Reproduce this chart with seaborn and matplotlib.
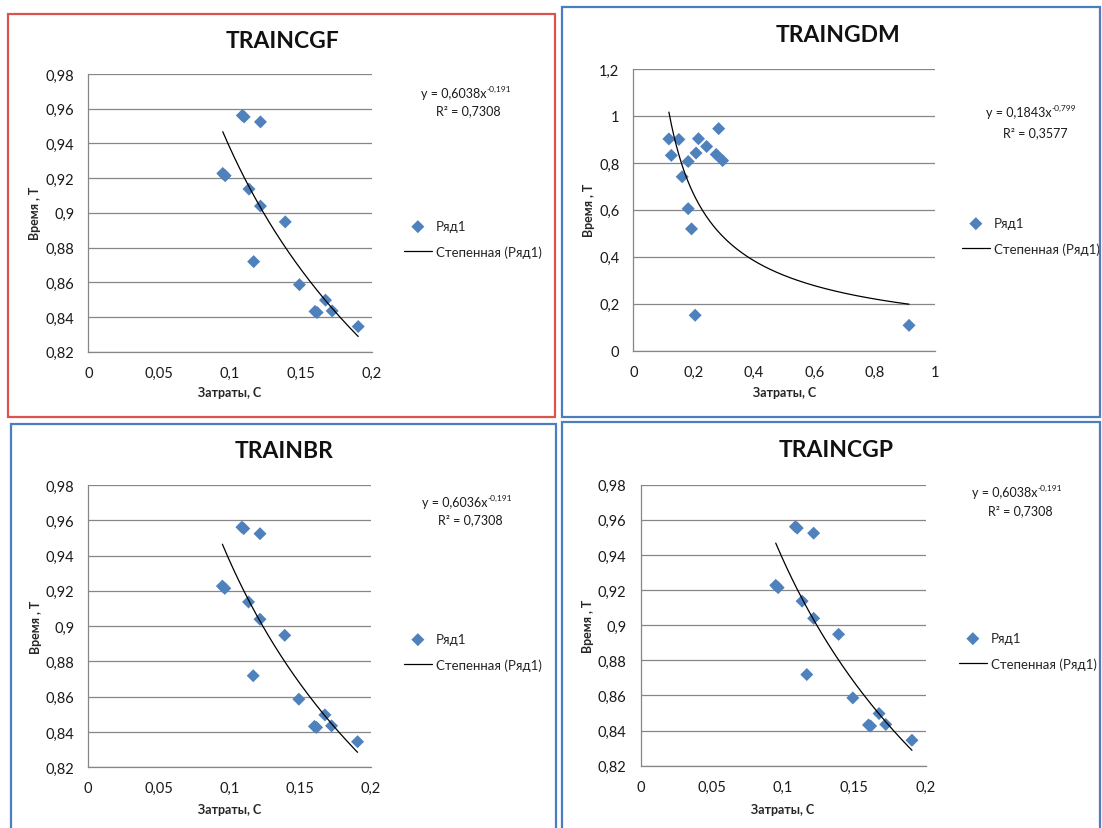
import numpy as np
import pandas as pd
import matplotlib
matplotlib.use("Agg")
import matplotlib.pyplot as plt
import seaborn as sns
from matplotlib.patches import Rectangle
from matplotlib.ticker import FuncFormatter

# ---------------- data ----------------
cgf_cost = [0.1087, 0.1100, 0.1215, 0.0949, 0.0966, 0.1134, 0.1215, 0.1390,
            0.1167, 0.1490, 0.1674, 0.1600, 0.1615, 0.1721, 0.1905]
cgf_time = [0.9561, 0.9553, 0.9524, 0.9227, 0.9214, 0.9137, 0.9039, 0.8948,
            0.8719, 0.8586, 0.8497, 0.8432, 0.8426, 0.8435, 0.8345]

dm_cost = [0.118, 0.151, 0.126, 0.216, 0.243, 0.283, 0.208, 0.275,
           0.296, 0.182, 0.162, 0.182, 0.193, 0.205, 0.914]
dm_time = [0.902, 0.900, 0.832, 0.903, 0.870, 0.946, 0.842, 0.836,
           0.810, 0.806, 0.741, 0.605, 0.519, 0.151, 0.108]

br_cost = list(cgf_cost)
br_time = list(cgf_time)
cgp_cost = list(cgf_cost)
cgp_time = list(cgf_time)

titles = ["TRAINCGF", "TRAINGDM", "TRAINBR", "TRAINCGP"]
fit_a = [0.6038, 0.1843, 0.6036, 0.6038]
fit_b = [-0.191, -0.799, -0.191, -0.191]
fit_a_txt = ["0,6038", "0,1843", "0,6036", "0,6038"]
fit_b_txt = ["-0,191", "-0,799", "-0,191", "-0,191"]
r2_txt = ["0,7308", "0,3577", "0,7308", "0,7308"]

small_xticks = [0, 0.05, 0.1, 0.15, 0.2]
small_yticks = [0.82, 0.84, 0.86, 0.88, 0.9, 0.92, 0.94, 0.96, 0.98]
dm_xticks = [0, 0.2, 0.4, 0.6, 0.8, 1.0]
dm_yticks = [0, 0.2, 0.4, 0.6, 0.8, 1.0, 1.2]

x_label = "Затраты, С"
y_label = "Время , Т"
series_label = "Ряд1"
trend_label = "Степенная (Ряд1)"

# ---------------- style ----------------
sns.set_style("white")
FAM = ["Lato", "Open Sans", "DejaVu Sans"]
plt.rcParams["font.family"] = FAM

W, H = 1102, 829
fig = plt.figure(figsize=(W / 100, H / 100), dpi=100)
fig.patch.set_facecolor("white")

MARK = "#4F81BD"
GRID = "#868686"

layout = [
    dict(ax=(88.3, 75, 371.7, 352.7), border=(8, 15, 555, 418), bcol="#D9534F",
         title=(282, 42), ylab=35, xlab=393, eq=(421, 94), r2=(468, 111),
         leg=(404, 240)),
    dict(ax=(633.3, 70, 935, 351.7), border=(561.5, 7.5, 1100, 417.5), bcol="#4A7EC0",
         title=(838, 35), ylab=589, xlab=393, eq=(986, 113), r2=(1035, 133),
         leg=(962, 237)),
    dict(ax=(88.2, 486, 371, 768.3), border=(10.5, 425, 555.5, 835), bcol="#4A7EC0",
         title=(284, 452), ylab=36, xlab=810, eq=(422, 503), r2=(470, 520),
         leg=(404, 653)),
    dict(ax=(640.5, 485.7, 925.5, 766.7), border=(562, 423.5, 1100, 835), bcol="#4A7EC0",
         title=(836, 451), ylab=588, xlab=810, eq=(972, 493), r2=(1020, 511),
         leg=(959, 652)),
]

costs = [cgf_cost, dm_cost, br_cost, cgp_cost]
times = [cgf_time, dm_time, br_time, cgp_time]
xticks = [small_xticks, dm_xticks, small_xticks, small_xticks]
yticks = [small_yticks, dm_yticks, small_yticks, small_yticks]

fmt = FuncFormatter(lambda v, p: f"{v:g}".replace(".", ","))


def fx(x):
    return x / W


def fy(y):
    return 1 - y / H


for i in range(4):
    L = layout[i]
    l, t, r, b = L["ax"]
    ax = fig.add_axes([fx(l), fy(b), (r - l) / W, (b - t) / H])

    df = pd.DataFrame({"cost": costs[i], "time": times[i]})
    sns.scatterplot(data=df, x="cost", y="time", ax=ax, marker="D", s=44,
                    color=MARK, edgecolor="none", label=series_label, zorder=3)
    tx = np.linspace(min(costs[i]), max(costs[i]), 200)
    trend = pd.DataFrame({"cost": tx, "time": fit_a[i] * tx ** fit_b[i]})
    sns.lineplot(data=trend, x="cost", y="time", ax=ax, color="black", lw=0.9,
                 label=trend_label, estimator=None, zorder=4)

    ax.set_xlim(xticks[i][0], xticks[i][-1])
    ax.set_ylim(yticks[i][0], yticks[i][-1])
    ax.set_xticks(xticks[i])
    ax.set_yticks(yticks[i])
    ax.xaxis.set_major_formatter(fmt)
    ax.yaxis.set_major_formatter(fmt)
    ax.yaxis.grid(True, color=GRID, lw=0.9)
    ax.xaxis.grid(False)
    ax.set_axisbelow(True)
    for s in ["top", "right"]:
        ax.spines[s].set_visible(False)
    for s in ["left", "bottom"]:
        ax.spines[s].set_color(GRID)
        ax.spines[s].set_linewidth(0.9)
    ax.tick_params(direction="out", length=4, width=0.9, color=GRID,
                   labelsize=10.5, labelcolor="#1a1a1a", pad=6)
    for lab in ax.get_xticklabels() + ax.get_yticklabels():
        lab.set_family(FAM)

    ax.set_xlabel(x_label, fontsize=9, fontweight="bold", family=FAM)
    ax.set_ylabel(y_label, fontsize=9, fontweight="bold", family=FAM)
    ax.xaxis.label.set_va("center")
    ax.yaxis.label.set_va("center")
    ax.xaxis.set_label_coords(((l + r) / 2 - l) / (r - l), -(L["xlab"] - b) / (b - t))
    ax.yaxis.set_label_coords((L["ylab"] - l) / (r - l), 0.5)

    # legend
    ax.legend(loc="center left", bbox_to_anchor=(fx(L["leg"][0]), fy(L["leg"][1])),
              bbox_transform=fig.transFigure, frameon=False,
              prop={"family": FAM, "size": 9.5}, handlelength=2.1,
              handletextpad=0.3, labelspacing=1.0, borderpad=0, borderaxespad=0)

    # title
    fig.text(fx(L["title"][0]), fy(L["title"][1]), titles[i], ha="center",
             va="center", fontsize=16.5, fontweight="bold", family=FAM, color="#111111")

    # equation
    eq = fig.text(fx(L["eq"][0]), fy(L["eq"][1]), f"y = {fit_a_txt[i]}x",
                  ha="left", va="center", fontsize=9, family=FAM, color="#1a1a1a")
    ax.annotate(fit_b_txt[i], xy=(1.0, 0.9), xycoords=eq, ha="left",
                va="center", fontsize=6, family=FAM, color="#1a1a1a",
                annotation_clip=False)
    fig.text(fx(L["r2"][0]), fy(L["r2"][1]), f"R² = {r2_txt[i]}", ha="center",
             va="center", fontsize=9, family=FAM, color="#1a1a1a")

    # panel border
    bl, bt, br_, bb = L["border"]
    fig.add_artist(Rectangle((fx(bl), fy(bb)), (br_ - bl) / W, (bb - bt) / H,
                             transform=fig.transFigure, fill=False,
                             edgecolor=L["bcol"], lw=1.6, clip_on=False))

fig.savefig("out.png", dpi=100, facecolor="white")
